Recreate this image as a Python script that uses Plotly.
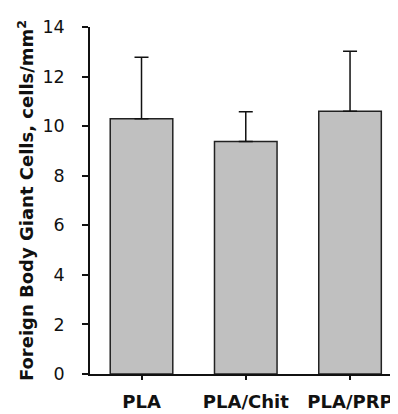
import plotly.graph_objects as go

categories = ["PLA", "PLA/Chit", "PLA/PRP"]
means = [10.3, 9.38, 10.6]
err_plus = [2.48, 1.2, 2.42]
ytick_vals = [0, 2, 4, 6, 8, 10, 12, 14]

FONT = "DejaVu Sans, Liberation Sans, Arial, sans-serif"

fig = go.Figure()
fig.add_trace(go.Bar(
    x=list(range(len(categories))),
    y=means,
    width=0.6,
    marker=dict(color="#C0C0C0", line=dict(color="#222222", width=1.5)),
    error_y=dict(type="data", array=err_plus, arrayminus=[0] * len(err_plus),
                 symmetric=False, color="#111111", thickness=1.5, width=7),
))

# page body has an 8px margin, so the figure is offset by 8px
fig.update_layout(
    width=390, height=406,
    margin=dict(l=82, r=0, t=19, b=40),
    paper_bgcolor="white", plot_bgcolor="white",
    showlegend=False,
    font=dict(family=FONT, color="#111111"),
    xaxis=dict(
        range=[-0.494, 2.46],
        tickmode="array", tickvals=list(range(len(categories))),
        ticktext=["<b>%s</b>" % c for c in categories],
        tickfont=dict(size=18, family=FONT),
        ticks="outside", ticklen=4, tickwidth=1.5, tickcolor="#111111",
        showline=True, linecolor="#111111", linewidth=1.5,
        showgrid=False, zeroline=False, ticklabelstandoff=7,
    ),
    yaxis=dict(
        range=[0, 14],
        tickmode="array", tickvals=ytick_vals,
        tickfont=dict(size=17.5, family=FONT),
        ticks="outside", ticklen=6, tickwidth=1.5, tickcolor="#111111",
        showline=True, linecolor="#111111", linewidth=1.5,
        showgrid=False, zeroline=False, ticklabelstandoff=14,
        title=dict(text="<b>Foreign Body Giant Cells, cells/mm<sup>2</sup></b>",
                   font=dict(size=18, family=FONT), standoff=4),
    ),
)

fig.write_html("out.html")
